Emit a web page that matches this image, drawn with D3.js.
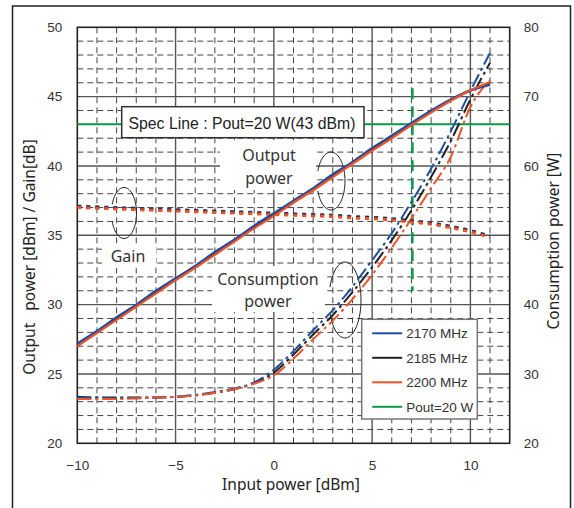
<!DOCTYPE html>
<html>
  <head>
    <meta charset="utf-8" />
    <title>Output power / Consumption power</title>
    <script src="https://d3js.org/d3.v7.min.js"></script>
    <style>
        body{
            margin: 0;
            background: #fff;
        }
    </style>
  </head>
  <body>
    <svg id="vis"></svg>

    <script>
        // input power [dBm]
        var inputPower = [-10, -9, -8, -7, -6, -5, -4, -3, -2, -1, 0, 1, 2, 3, 4, 5, 6, 7, 8, 9, 10, 11];

        // output power [dBm]
        var outBlue  = [27.2, 28.1, 29.1, 30.0, 31.0, 31.9, 32.8, 33.8, 34.7, 35.7, 36.6, 37.5, 38.4, 39.4, 40.3, 41.3, 42.2, 43.1, 44.0, 44.8, 45.45, 45.85];
        var outBlack = [27.1, 28.05, 29.0, 29.95, 30.9, 31.85, 32.75, 33.7, 34.65, 35.6, 36.5, 37.45, 38.35, 39.3, 40.25, 41.2, 42.1, 43.0, 43.9, 44.75, 45.45, 45.95];
        var outRed   = [27.0, 27.95, 28.9, 29.85, 30.8, 31.75, 32.65, 33.6, 34.55, 35.5, 36.4, 37.35, 38.25, 39.2, 40.15, 41.1, 42.0, 42.95, 43.85, 44.7, 45.45, 46.05];

        // gain [dB]
        var gainBlue  = [37.1, 37.05, 37.0, 36.95, 36.9, 36.85, 36.8, 36.75, 36.7, 36.65, 36.6, 36.55, 36.5, 36.45, 36.35, 36.3, 36.2, 36.05, 35.9, 35.65, 35.35, 34.95];
        var gainBlack = [37.05, 37.0, 36.95, 36.9, 36.85, 36.8, 36.75, 36.7, 36.65, 36.6, 36.55, 36.5, 36.45, 36.4, 36.3, 36.25, 36.15, 36.0, 35.85, 35.6, 35.3, 34.9];
        var gainRed   = [37.0, 36.95, 36.9, 36.85, 36.8, 36.75, 36.7, 36.65, 36.6, 36.55, 36.5, 36.45, 36.4, 36.35, 36.25, 36.2, 36.1, 35.95, 35.8, 35.55, 35.25, 34.85];

        // consumption power [W]
        var consBlue  = [26.6, 26.6, 26.5, 26.5, 26.6, 26.7, 27.0, 27.4, 27.9, 28.8, 30.6, 33.3, 36.3, 39.2, 42.6, 46.4, 50.3, 54.8, 59.6, 65.0, 70.8, 76.3];
        var consBlack = [26.7, 26.6, 26.6, 26.6, 26.6, 26.7, 26.9, 27.3, 27.8, 28.7, 30.2, 32.8, 35.7, 38.5, 41.8, 45.4, 49.3, 53.6, 58.4, 63.6, 69.6, 74.9];
        var consRed   = [26.4, 26.4, 26.4, 26.5, 26.6, 26.7, 26.9, 27.3, 27.8, 28.6, 29.8, 32.2, 35.0, 37.7, 40.8, 44.3, 48.2, 52.4, 56.8, 61.3, 68.5, 72.4];

        var legendNames = ["2170 MHz", "2185 MHz", "2200 MHz", "Pout=20 W"];
        var legendColors = ["#1f4fa0", "#222222", "#f0522a", "#0c9a4a"];

        var specLevel = 43;          // dBm
        var specInput = 7.05;        // dBm where Pout = 20 W
        var specSpan = [31.0, 45.6]; // left-axis extent of the vertical marker

        var xTicks = [-10, -5, 0, 5, 10];
        var yLeftTicks = [20, 25, 30, 35, 40, 45, 50];
        var yRightTicks = [20, 30, 40, 50, 60, 70, 80];

        var width = 574, height = 508;
        var svg = d3.select("#vis").attr("width", width).attr("height", height);

        var pLeft = 77.3, pRight = 509.7, pTop = 27.3, pBottom = 443.3;
        var x = d3.scaleLinear().domain([-10, 12]).range([pLeft, pRight]);
        var yL = d3.scaleLinear().domain([20, 50]).range([pBottom, pTop]);
        var yR = d3.scaleLinear().domain([20, 80]).range([pBottom, pTop]);

        var sans = "'Liberation Sans', Arial, sans-serif";
        var humanist = "'Noto Sans', 'Open Sans', sans-serif";

        // outer frame
        svg.append("rect").attr("x", 12.5).attr("y", 6).attr("width", 558).attr("height", 540)
            .attr("fill", "none").attr("stroke", "#222").attr("stroke-width", 1.5);

        var grid = svg.append("g");
        var minorX = d3.range(-9, 12).filter(function(v){ return v % 5 !== 0; });
        var minorY = d3.range(21, 50).filter(function(v){ return v % 5 !== 0; });

        // major solid grid
        grid.selectAll(".mx").data([-5, 0, 5, 10]).enter().append("line")
            .attr("x1", function(d){ return x(d); }).attr("x2", function(d){ return x(d); })
            .attr("y1", pTop).attr("y2", pBottom)
            .attr("stroke", "#555").attr("stroke-width", 1.4);
        grid.selectAll(".my").data([25, 30, 35, 40, 45]).enter().append("line")
            .attr("y1", function(d){ return yL(d); }).attr("y2", function(d){ return yL(d); })
            .attr("x1", pLeft).attr("x2", pRight)
            .attr("stroke", "#555").attr("stroke-width", 1.4);

        // minor dashed grid
        grid.selectAll(".dx").data(minorX).enter().append("line")
            .attr("x1", function(d){ return x(d); }).attr("x2", function(d){ return x(d); })
            .attr("y1", pTop).attr("y2", pBottom)
            .attr("stroke", "#444").attr("stroke-width", 1).attr("stroke-dasharray", "6,4");
        grid.selectAll(".dy").data(minorY).enter().append("line")
            .attr("y1", function(d){ return yL(d); }).attr("y2", function(d){ return yL(d); })
            .attr("x1", pLeft).attr("x2", pRight)
            .attr("stroke", "#444").attr("stroke-width", 1).attr("stroke-dasharray", "6,4");

        // plot border
        svg.append("rect").attr("x", pLeft).attr("y", pTop).attr("width", pRight - pLeft).attr("height", pBottom - pTop)
            .attr("fill", "none").attr("stroke", "#222").attr("stroke-width", 1.6);

        // text labels with white backing
        function label(lines, cx, ys, box) {
            svg.append("rect").attr("x", box[0]).attr("y", box[1]).attr("width", box[2]).attr("height", box[3]).attr("fill", "#fff");
            lines.forEach(function(t, i){
                svg.append("text").attr("x", cx).attr("y", ys[i]).attr("text-anchor", "middle")
                    .attr("font-family", humanist).attr("font-size", 16).attr("fill", "#333").text(t);
            });
        }
        label(["Output", "power"], 269, [161, 184], [220, 140, 96, 50]);
        label(["Consumption", "power"], 268, [285, 307], [212, 266, 113, 46]);
        label(["Gain"], 128, [262], [102, 244, 54, 24]);

        // callout ellipses, open on the left side
        function callout(cx, cy, rx, ry) {
            var pts = d3.range(200, 521, 5).map(function(a){
                var r = a * Math.PI / 180;
                return [cx + rx * Math.cos(r), cy + ry * Math.sin(r)];
            });
            svg.append("path").attr("d", d3.line()(pts)).attr("fill", "none")
                .attr("stroke", "#222").attr("stroke-width", 1);
        }
        callout(124, 213, 12.5, 25.5);
        callout(331, 181, 14, 29);
        callout(345, 300, 16, 38);

        // spec line
        svg.append("line").attr("x1", pLeft).attr("x2", pRight)
            .attr("y1", yL(specLevel)).attr("y2", yL(specLevel))
            .attr("stroke", legendColors[3]).attr("stroke-width", 2);
        svg.append("rect").attr("x", 121.7).attr("y", 106.7).attr("width", 242.3).attr("height", 31)
            .attr("fill", "#fff").attr("stroke", "#333").attr("stroke-width", 1.5);
        svg.append("text").attr("x", 242).attr("y", 128.5).attr("text-anchor", "middle")
            .attr("font-family", sans).attr("font-size", 15.8).attr("fill", "#222")
            .text("Spec Line : Pout=20 W(43 dBm)");
        svg.append("line").attr("x1", x(specInput)).attr("x2", x(specInput))
            .attr("y1", yL(specSpan[1])).attr("y2", yL(specSpan[0]))
            .attr("stroke", legendColors[3]).attr("stroke-width", 2.5).attr("stroke-dasharray", "11,7");

        function series(vals) {
            return vals.map(function(v, i){ return [inputPower[i], v]; });
        }
        var lineL = d3.line().x(function(d){ return x(d[0]); }).y(function(d){ return yL(d[1]); }).curve(d3.curveMonotoneX);
        var lineR = d3.line().x(function(d){ return x(d[0]); }).y(function(d){ return yR(d[1]); }).curve(d3.curveMonotoneX);

        var plot = svg.append("g");

        // consumption power (right axis)
        [[consBlack, 1], [consBlue, 0], [consRed, 2]].forEach(function(s){
            plot.append("path").attr("d", lineR(series(s[0])))
                .attr("fill", "none").attr("stroke", legendColors[s[1]]).attr("stroke-width", 2)
                .attr("stroke-dasharray", "14,4,3,4");
        });

        // gain (dotted)
        [[gainBlue, 0], [gainBlack, 1], [gainRed, 2]].forEach(function(s){
            plot.append("path").attr("d", lineL(series(s[0])))
                .attr("fill", "none").attr("stroke", legendColors[s[1]]).attr("stroke-width", 3)
                .attr("stroke-dasharray", "4,5");
        });

        // output power
        [[outBlack, 1], [outBlue, 0], [outRed, 2]].forEach(function(s){
            plot.append("path").attr("d", lineL(series(s[0])))
                .attr("fill", "none").attr("stroke", legendColors[s[1]]).attr("stroke-width", 2.2);
        });

        // axes (labels only)
        var axB = svg.append("g").attr("transform", "translate(0," + (pBottom + 14) + ")")
            .call(d3.axisBottom(x).tickValues(xTicks).tickSize(0).tickFormat(d3.format("d")));
        var axL = svg.append("g").attr("transform", "translate(" + (pLeft - 12) + ",0)")
            .call(d3.axisLeft(yL).tickValues(yLeftTicks).tickSize(0));
        var axR = svg.append("g").attr("transform", "translate(" + (pRight + 11) + ",0)")
            .call(d3.axisRight(yR).tickValues(yRightTicks).tickSize(0));
        [axB, axL, axR].forEach(function(a){
            a.select(".domain").remove();
            a.selectAll("text").attr("font-family", sans).attr("font-size", 13.5).attr("fill", "#333");
        });

        // axis titles
        svg.append("text").attr("x", 291).attr("y", 490).attr("text-anchor", "middle")
            .attr("font-family", humanist).attr("font-size", 15.5).attr("fill", "#222")
            .text("Input power [dBm]");
        svg.append("text").attr("transform", "translate(35,257) rotate(-90)").attr("text-anchor", "middle")
            .attr("font-family", humanist).attr("font-size", 15.5).attr("fill", "#222")
            .style("white-space", "pre")
            .text("Output   power [dBm] / Gain[dB]");
        svg.append("text").attr("transform", "translate(559,241) rotate(-90)").attr("text-anchor", "middle")
            .attr("font-family", humanist).attr("font-size", 15.5).attr("fill", "#222")
            .text("Consumption power [W]");

        // legend
        var lg = svg.append("g").attr("transform", "translate(361.7,319.3)");
        lg.append("rect").attr("width", 115.6).attr("height", 99.7)
            .attr("fill", "#fff").attr("stroke", "#777").attr("stroke-width", 1.5);
        var items = lg.selectAll(".item").data(legendNames).enter().append("g")
            .attr("transform", function(d, i){ return "translate(0," + (14 + i * 24.5) + ")"; });
        items.append("line").attr("x1", 10.5).attr("x2", 40.5)
            .attr("stroke", function(d, i){ return legendColors[i]; }).attr("stroke-width", 2);
        items.append("text").attr("x", 44.5).attr("y", 5)
            .attr("font-family", sans).attr("font-size", 13.5).attr("fill", "#333")
            .text(function(d){ return d; });
    </script>
  </body>
</html>
